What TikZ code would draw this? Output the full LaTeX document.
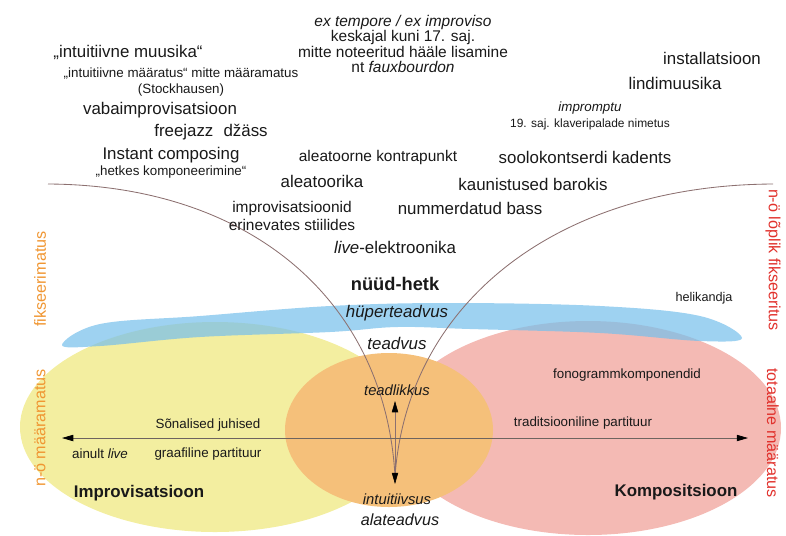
\documentclass[tikz,border=0pt]{standalone}
\usepackage{fontspec}
\setmainfont{Liberation Sans}
\usetikzlibrary{arrows.meta, positioning}

\definecolor{imprYellow}{RGB}{243,238,160}
\definecolor{kompPink}{RGB}{244,186,180}
\definecolor{nowOrange}{RGB}{245,192,122}
\definecolor{hyperBlue}{RGB}{120,192,235}
\definecolor{sideOrange}{RGB}{240,150,50}
\definecolor{sideRed}{RGB}{225,50,45}
\definecolor{curveGray}{RGB}{140,112,112}
\definecolor{axisGray}{RGB}{110,100,95}
\definecolor{txtGray}{RGB}{25,25,25}

\newcommand{\txtL}{\fontsize{12}{14}\selectfont}
\newcommand{\txtM}{\fontsize{11}{11.1}\selectfont}
\newcommand{\txtS}{\fontsize{9.5}{11.3}\selectfont}

\begin{document}
\begin{tikzpicture}[x=0.025cm, y=-0.025cm,
  >={Triangle[length=8pt,width=4.5pt,color=black]},
  bigtxt/.style={font=\txtL, inner sep=0pt, text=txtGray},
  midtxt/.style={font=\txtM, inner sep=0pt, align=center, text=txtGray},
  smalltxt/.style={font=\txtS, inner sep=0pt, align=center, text=txtGray},
  boldtxt/.style={font=\txtL\bfseries, inner sep=0pt, text=txtGray},
  itxt/.style={font=\txtL\itshape, inner sep=0pt, text=txtGray},
  sidetxt/.style={font=\fontsize{11.5}{12}\selectfont, inner sep=0pt},
  curve/.style={draw=curveGray, line width=0.6pt}]
  \useasboundingbox (0,0) rectangle (786,535);

  % fields
  \fill[imprYellow] (215,427) ellipse [x radius=195, y radius=105];
  \fill[kompPink] (588,428) ellipse [x radius=193, y radius=107];
  \fill[nowOrange] (389,430) ellipse [x radius=104, y radius=77];
  \fill[hyperBlue, opacity=0.72] plot[smooth cycle, tension=0.6] coordinates
    {(62,345) (100,324) (200,316) (330,306) (450,303) (600,306) (700,316) (742,338)
     (700,341) (600,333) (470,329) (397,327) (330,332) (200,337) (100,346)};

  % connectors
  \coordinate (lStart) at (48,184);
  \coordinate (rStart) at (773,184);
  \coordinate (meet)   at (395,476);
  \coordinate (vTop)   at (395,401);
  \coordinate (vBot)   at (395,484);
  \coordinate (axL)    at (62,438);
  \coordinate (axR)    at (748,438);
  \draw[curve] (lStart) .. controls (250,185) and (385,300) .. (meet);
  \draw[curve] (rStart) .. controls (560,185) and (408,300) .. (meet);
  \draw[<->, draw=curveGray, line width=0.4pt] (vTop) -- (vBot);
  \draw[<->, draw=axisGray, line width=0.5pt] (axL) -- (axR);

  % upper texts
  \node[midtxt] (exTempore) at (403,44) {\textit{ex tempore / ex improviso}\\keskajal kuni 17. saj.\\mitte noteeritud hääle lisamine\\nt \textit{fauxbourdon}};
  \node[bigtxt] (intMuusika) at (128,52) {„intuitiivne muusika“};
  \node[smalltxt] (intMaaratus) at (181,82) {„intuitiivne määratus“ mitte määramatus\\(Stockhausen)};
  \node[bigtxt] (vaba) at (160,110) {vabaimprovisatsioon};
  \node[bigtxt] (freejazz) at (211,132) {freejazz\hspace{0.6em}džäss};
  \node[bigtxt] (instant) at (171,155) {Instant composing};
  \node[smalltxt] (hetkes) at (171,172) {„hetkes komponeerimine“};
  \node[midtxt] (kontrapunkt) at (378,157) {aleatoorne kontrapunkt};
  \node[bigtxt] (aleatoorika) at (322,181) {aleatoorika};
  \node[midtxt, font=\fontsize{11}{12.8}\selectfont] (stiilid) at (292,216) {improvisatsioonid\\erinevates stiilides};
  \node[bigtxt] (liveEl) at (395,247) {\textit{live}-elektroonika};
  \node[boldtxt, font=\fontsize{13}{14}\selectfont\bfseries] (nuud) at (395,284) {nüüd-hetk};
  \node[bigtxt] (installatsioon) at (712,58) {installatsioon};
  \node[bigtxt] (lindimuusika) at (675,83) {lindimuusika};
  \node[smalltxt, font=\fontsize{9.5}{11}\selectfont\itshape] (impromptu) at (590,108) {impromptu};
  \node[smalltxt, font=\fontsize{8.5}{10}\selectfont] (klaver) at (590,124) {19. saj. klaveripalade nimetus};
  \node[bigtxt] (kadents) at (585,157) {soolokontserdi kadents};
  \node[bigtxt] (barokis) at (533,184) {kaunistused barokis};
  \node[bigtxt] (bass) at (470,208) {nummerdatud bass};
  \node[smalltxt, font=\fontsize{9}{10}\selectfont] (helikandja) at (704,298) {helikandja};

  % consciousness levels
  \node[itxt] (hyper) at (397,313) {hüperteadvus};
  \node[itxt] (teadvus) at (397,343) {teadvus};
  \node[itxt, font=\fontsize{10.5}{12}\selectfont\itshape] (teadlikkus) at (397,390) {teadlikkus};
  \node[itxt, font=\fontsize{10.5}{12}\selectfont\itshape] (intuitiivsus) at (397,499) {intuitiivsus};
  \node[itxt, font=\fontsize{11.5}{12}\selectfont\itshape] (alateadvus) at (400,520) {alateadvus};

  % lower texts
  \node[smalltxt] (sonalised) at (208,425) {Sõnalised juhised};
  \node[smalltxt] (ainult) at (100,454) {ainult \textit{live}};
  \node[smalltxt] (graafiline) at (208,454) {graafiline partituur};
  \node[boldtxt] (impr) at (139,493) {Improvisatsioon};
  \node[smalltxt] (fonogramm) at (627,375) {fonogrammkomponendid};
  \node[smalltxt] (traditsiooniline) at (583,423) {traditsiooniline partituur};
  \node[boldtxt] (komp) at (676,492) {Kompositsioon};

  % side labels
  \node[sidetxt, text=sideOrange, rotate=90] (fiks) at (40,279) {fikseerimatus};
  \node[sidetxt, text=sideOrange, rotate=90] (maaramatus) at (40,428) {n-ö määramatus};
  \node[sidetxt, text=sideRed, rotate=-90] (lopFiks) at (773,260) {n-ö lõplik fikseeritus};
  \node[sidetxt, text=sideRed, rotate=-90] (totaalne) at (773,433) {totaalne määratus};
\end{tikzpicture}
\end{document}
